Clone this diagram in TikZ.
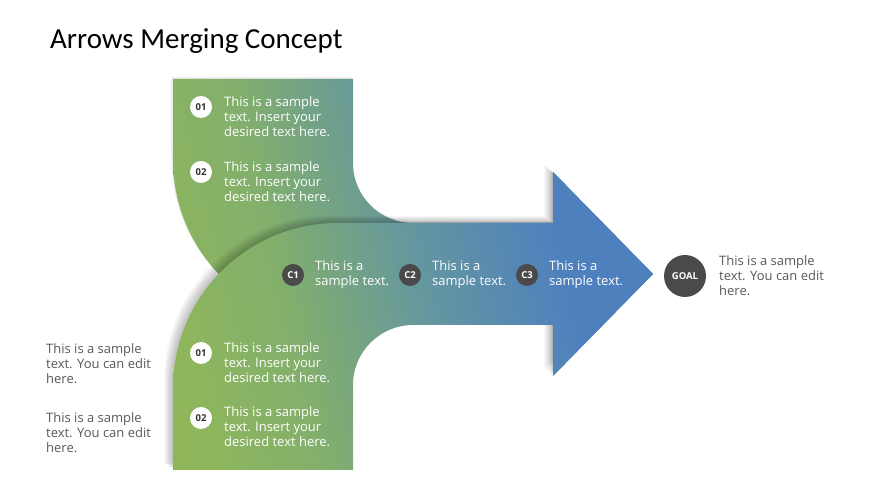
\documentclass[tikz,border=0pt]{standalone}
\usepackage{fontspec}
\setmainfont{Open Sans}
\newfontfamily\titlefont{Carlito}
\definecolor{grn}{RGB}{143,183,90}
\definecolor{grn2}{RGB}{130,175,108}
\definecolor{tealc}{RGB}{100,150,160}
\definecolor{blu}{RGB}{79,128,190}
\definecolor{gry}{RGB}{89,89,89}
\definecolor{dkc}{RGB}{74,74,74}
\definecolor{numtxt}{RGB}{50,50,50}
\pgfdeclarehorizontalshading{arrsh}{100bp}{color(0bp)=(grn); color(22bp)=(grn); color(36bp)=(grn2); color(51bp)=(tealc); color(66bp)=(blu); color(100bp)=(blu)}
\def\upperpath{(173,410) -- (353,410) -- (353,326) arc[start angle=180, end angle=270, radius=60] -- (553,266) -- (553,317) -- (653,215) -- (553,113) -- (553,164) -- (338,164) arc[start angle=270, end angle=180, radius=165] -- cycle}
\def\lowerpath{(173,19) -- (353,19) -- (353,104) arc[start angle=180, end angle=90, radius=60] -- (553,164) -- (553,113) -- (653,215) -- (553,317) -- (553,266) -- (338,266) arc[start angle=90, end angle=180, radius=165] -- cycle}
\begin{document}
\begin{tikzpicture}[x=1pt,y=1pt,
  numc/.style={circle, fill=white, minimum size=22pt, inner sep=0pt, text=numtxt, font=\fontsize{9.5}{9.5}\selectfont\bfseries},
  ccirc/.style={circle, fill=dkc, minimum size=22pt, inner sep=0pt, text=white, font=\fontsize{9.5}{9.5}\selectfont\bfseries},
  wtxt/.style={anchor=west, align=left, inner sep=0pt, text=white, font=\fontsize{13}{15}\selectfont},
  gtxt/.style={anchor=west, align=left, inner sep=0pt, text=gry, font=\fontsize{13}{15}\selectfont}]
\useasboundingbox (0,0) rectangle (870,489);
\fill[white] (0,0) rectangle (870,489);
% soft shadow of whole arrow
\foreach \i in {1,...,4} {\fill[black, opacity=0.025, shift={(-0.6*\i,0.6*\i)}] \upperpath;}
% upper arrow
\begin{scope}
\clip \upperpath;
\shade[shading=arrsh, shading angle=14] (173,19) rectangle (653,410);
\end{scope}
% shadow of lower arrow
\foreach \i in {1,...,9} {\fill[black, opacity=0.028, shift={(-1.0*\i,0.8*\i)}] \lowerpath;}
% lower arrow
\begin{scope}
\clip \lowerpath;
\shade[shading=arrsh, shading angle=14] (173,19) rectangle (653,410);
\end{scope}
% title
\node[anchor=west, inner sep=0pt, font=\titlefont\fontsize{29}{29}\selectfont, text=black] (title) at (50,448) {Arrows Merging Concept};
% upper band items
\node[numc] (n1) at (201,382) {01};
\node[wtxt] (t1) at (224,372) {This is a sample\\text. Insert your\\desired text here.};
\node[numc] (n2) at (201,317) {02};
\node[wtxt] (t2) at (224,307) {This is a sample\\text. Insert your\\desired text here.};
% lower band items
\node[numc] (n3) at (201,136) {01};
\node[wtxt] (t3) at (224,126) {This is a sample\\text. Insert your\\desired text here.};
\node[numc] (n4) at (201,71) {02};
\node[wtxt] (t4) at (224,62) {This is a sample\\text. Insert your\\desired text here.};
% C row
\node[ccirc] (c1) at (293,214) {C1};
\node[wtxt] (ct1) at (315,214) {This is a\\sample text.};
\node[ccirc] (c2) at (410,214) {C2};
\node[wtxt] (ct2) at (432,214) {This is a\\sample text.};
\node[ccirc] (c3) at (527,214) {C3};
\node[wtxt] (ct3) at (549,214) {This is a\\sample text.};
% goal
\node[circle, fill=dkc, minimum size=42pt, inner sep=0pt, text=white, font=\fontsize{9.5}{9.5}\selectfont\bfseries] (goal) at (685,213) {GOAL};
\node[gtxt] (gt) at (719,213) {This is a sample\\text. You can edit\\here.};
% left texts
\node[gtxt] (l1) at (46,125) {This is a sample\\text. You can edit\\here.};
\node[gtxt] (l2) at (46,56) {This is a sample\\text. You can edit\\here.};
\end{tikzpicture}
\end{document}
